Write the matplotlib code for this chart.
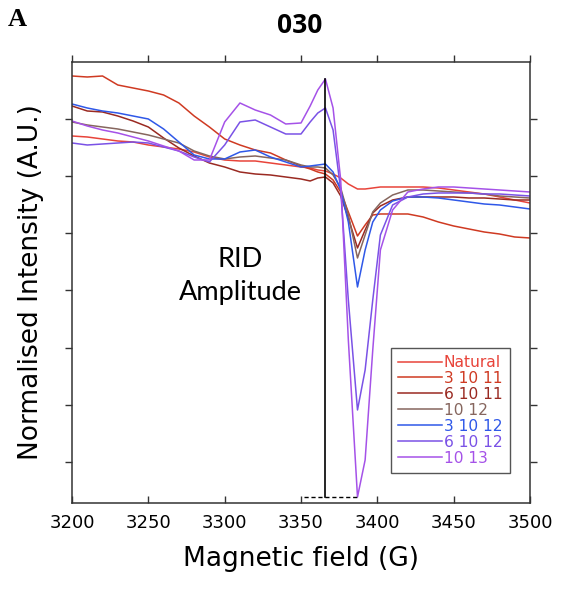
import numpy as np
import matplotlib
matplotlib.use("Agg")
import matplotlib.pyplot as plt

# magnetic field (G) sample points
field = [3200, 3210, 3220, 3230, 3240, 3250, 3260, 3270, 3280, 3290, 3300, 3310,
         3320, 3330, 3340, 3350, 3356, 3361, 3366, 3371, 3376, 3381, 3387, 3392,
         3397, 3402, 3410, 3420, 3430, 3440, 3450, 3460, 3470, 3480, 3490, 3500]

natural = [38.3, 38.2, 38.0, 37.8, 37.7, 37.4, 37.2, 37.0, 36.7, 36.2, 35.9, 35.8,
           35.8, 35.6, 35.4, 35.2, 35.1, 34.9, 34.8, 34.5, 34.1, 33.5, 33.0, 33.0,
           33.1, 33.2, 33.2, 33.2, 33.2, 33.1, 32.9, 32.7, 32.5, 32.2, 31.9, 31.6]
s_3_10_11 = [44.3, 44.2, 44.3, 43.4, 43.1, 42.8, 42.4, 41.6, 40.3, 39.2, 38.0, 37.4,
             36.9, 36.6, 35.9, 35.3, 35.0, 34.7, 34.5, 33.9, 32.7, 30.7, 28.3, 29.4,
             30.4, 30.5, 30.5, 30.5, 30.2, 29.7, 29.3, 29.0, 28.7, 28.5, 28.2, 28.1]
s_6_10_11 = [41.3, 40.8, 40.7, 40.3, 39.8, 39.2, 38.1, 37.1, 36.3, 35.6, 35.2, 34.7,
             34.5, 34.4, 34.2, 34.0, 33.8, 34.1, 34.2, 33.6, 32.3, 30.1, 27.1, 28.9,
             30.6, 31.3, 31.9, 32.2, 32.2, 32.2, 32.2, 32.1, 32.1, 32.0, 31.9, 31.9]
s_10_12 = [39.7, 39.4, 39.2, 39.0, 38.7, 38.4, 38.0, 37.6, 36.8, 36.3, 36.0, 36.2,
           36.3, 36.1, 35.9, 35.4, 35.2, 35.2, 35.1, 34.4, 33.1, 30.4, 26.1, 28.4,
           30.7, 31.6, 32.4, 32.9, 32.9, 32.8, 32.7, 32.6, 32.5, 32.3, 32.2, 32.1]
s_3_10_12 = [41.5, 41.1, 40.8, 40.6, 40.3, 40.0, 39.0, 37.7, 36.4, 36.0, 36.0, 36.7,
             36.9, 36.2, 35.7, 35.2, 35.3, 35.4, 35.5, 34.7, 32.9, 29.7, 23.2, 26.9,
             29.7, 30.9, 31.8, 32.2, 32.2, 32.1, 31.9, 31.7, 31.5, 31.4, 31.2, 31.0]
s_6_10_12 = [37.6, 37.4, 37.5, 37.6, 37.7, 37.6, 37.2, 36.8, 36.2, 35.7, 37.4, 39.7,
             39.9, 39.2, 38.5, 38.5, 39.7, 40.6, 41.1, 38.9, 32.9, 21.9, 10.9, 14.9,
             21.9, 28.4, 31.4, 32.2, 32.5, 32.6, 32.6, 32.6, 32.5, 32.5, 32.4, 32.3]
s_10_13 = [39.8, 39.3, 38.9, 38.6, 38.2, 37.8, 37.3, 36.8, 35.9, 35.9, 39.7, 41.6,
           40.9, 40.4, 39.5, 39.6, 41.3, 42.9, 44.0, 41.1, 33.9, 17.9, 2.2, 5.9,
           16.9, 26.9, 30.9, 32.7, 33.0, 33.2, 33.2, 33.1, 33.0, 32.9, 32.8, 32.7]

labels = ["Natural", "3 10 11", "6 10 11", "10 12", "3 10 12", "6 10 12", "10 13"]
colors = ["#e8443a", "#cf3a22", "#9a2a22", "#86665e", "#2f58e8", "#7a52e6", "#a552e8"]
series = [natural, s_3_10_11, s_6_10_11, s_10_12, s_3_10_12, s_6_10_12, s_10_13]

fig = plt.figure(figsize=(5.63, 6.06), dpi=100)
ax = fig.add_axes([0.1279, 0.17, 0.8135, 0.7277])

for y, c, lab in zip(series, colors, labels):
    ax.plot(field, y, color=c, lw=1.1, label=lab)

# RID amplitude marker from the 10 13 spectrum
top = max(s_10_13)
bot = min(s_10_13)
x_top = field[s_10_13.index(top)]
x_bot = field[s_10_13.index(bot)]
ax.plot([x_top, x_top], [bot, top], color="black", lw=1.2, zorder=5)
ax.plot([x_top - 14, x_bot], [bot, bot], color="black", lw=1.0, ls=(0, (3, 2)), zorder=5)

ax.text(3310, 24.3, "RID\nAmplitude", ha="center", va="center", fontsize=19.5,
        family="Lato", linespacing=1.42)

ax.set_xlim(3200, 3500)
ax.set_ylim(1.6, 45.7)
ax.set_xticks(np.arange(3200, 3501, 50))
ax.set_yticks(np.linspace(0, 45.7, 9)[1:-1])
ax.set_yticklabels([])
ax.tick_params(axis="both", direction="out", length=5, width=1, color="#333333",
               top=True, right=True, labelsize=13)
ax.xaxis.set_tick_params(which="major", pad=3)
for t in ax.xaxis.get_major_ticks():
    t.tick1line.set_marker(2)  # inward tick on the bottom spine
for lab in ax.get_xticklabels():
    lab.set_family("DejaVu Sans")
for sp in ax.spines.values():
    sp.set_color("#333333")
    sp.set_linewidth(1.1)

ax.set_xlabel("Magnetic field (G)", fontsize=19, family="DejaVu Sans", labelpad=10)
ax.set_ylabel("Normalised Intensity (A.U.)", fontsize=19, family="DejaVu Sans", labelpad=12)

leg = ax.legend(loc="upper left", bbox_to_anchor=(0.6965, 0.3515), borderaxespad=0,
                handlelength=2.8, handletextpad=0.15, labelspacing=0.06,
                borderpad=0.45, fancybox=False, framealpha=1, edgecolor="#555555",
                prop={"family": "DejaVu Sans", "size": 11.2})
for txt, c in zip(leg.get_texts(), colors):
    txt.set_color(c)

fig.text(0.533, 0.958, "030", ha="center", va="center", fontsize=19,
         fontweight="bold", family="Open Sans")
fig.text(0.014, 0.968, "A", ha="left", va="center", fontsize=19,
         fontweight="bold", family="Liberation Serif")

fig.savefig("out.png", dpi=100)
